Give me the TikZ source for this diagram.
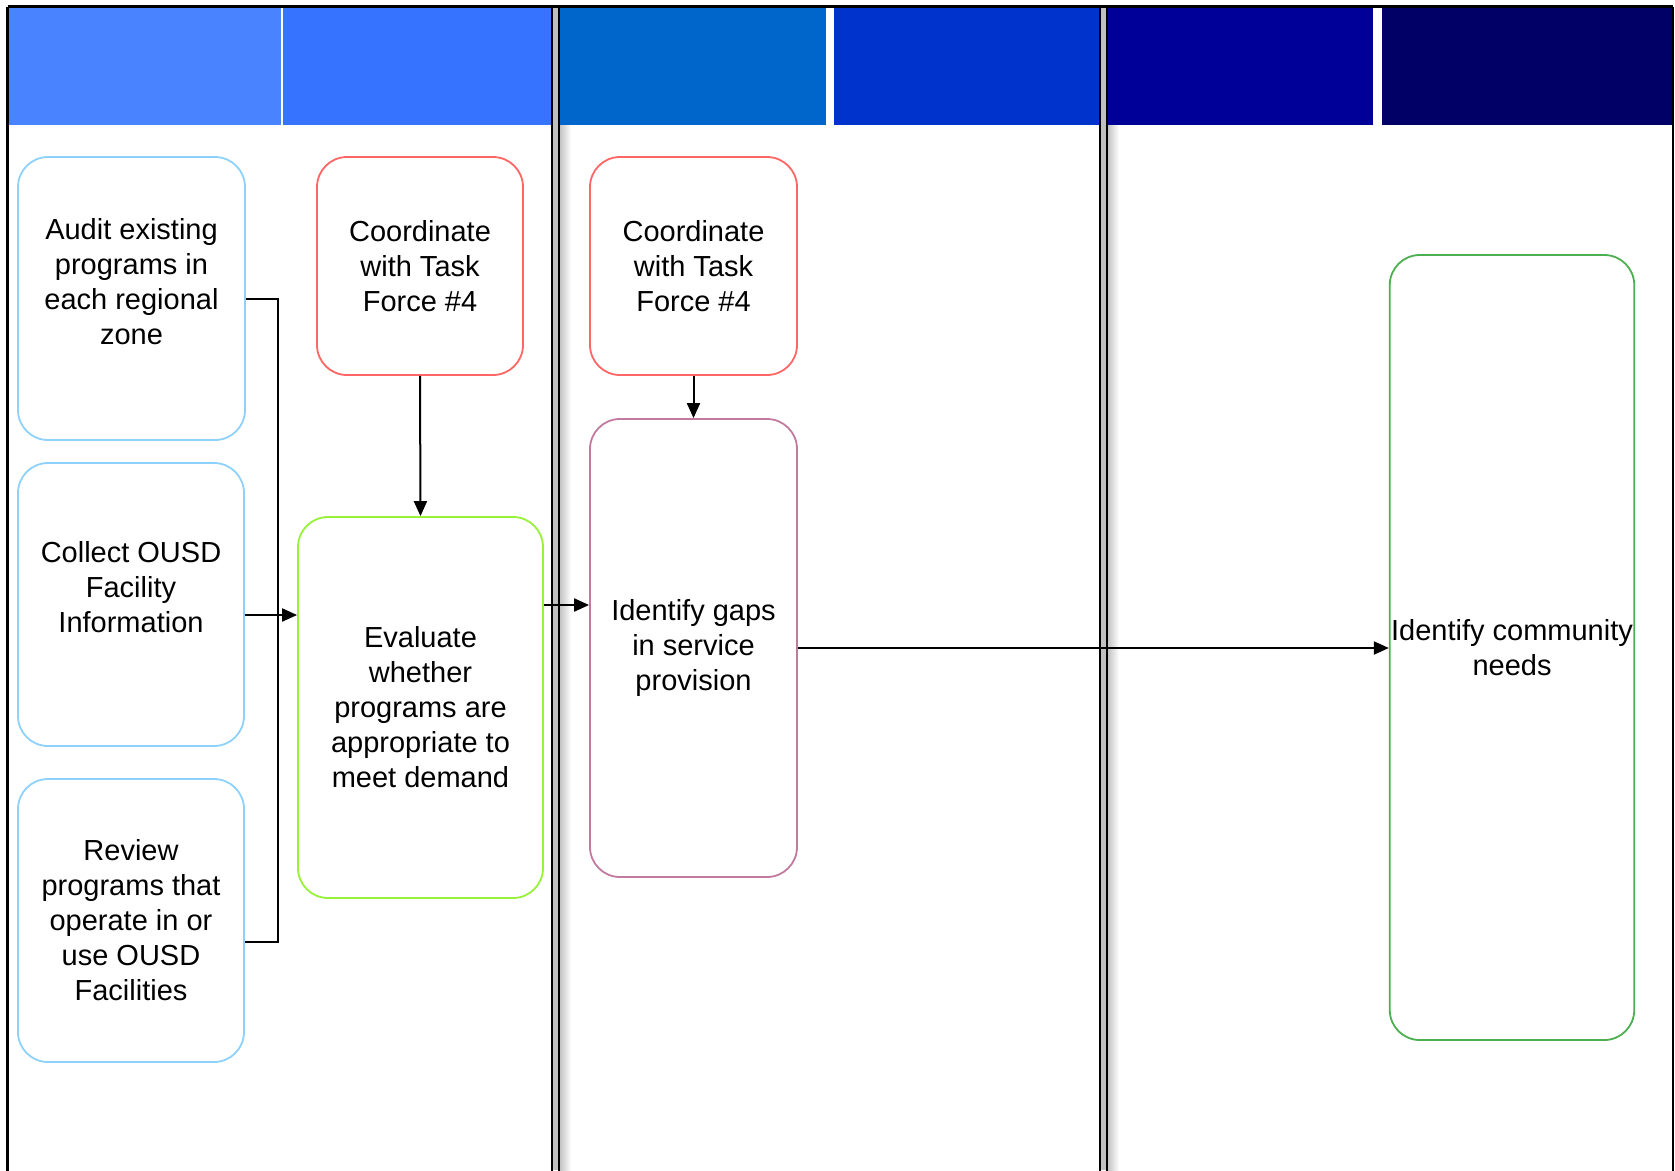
\documentclass[tikz,border=0pt]{standalone}
\usepackage{fontspec}
\setmainfont{Liberation Sans}
\usetikzlibrary{arrows.meta,calc}
\definecolor{hA}{HTML}{4A83FF}
\definecolor{hB}{HTML}{3674FF}
\definecolor{hC}{HTML}{0066CC}
\definecolor{hD}{HTML}{0033CC}
\definecolor{hE}{HTML}{000099}
\definecolor{hF}{HTML}{000066}
\definecolor{cblue}{HTML}{8ED2FB}
\definecolor{cred}{HTML}{FF6666}
\definecolor{clime}{HTML}{99F23A}
\definecolor{cmauve}{HTML}{C27BA0}
\definecolor{cgreen}{HTML}{4CAF50}
\definecolor{gapgray}{HTML}{C0C0C0}
\tikzset{
  box/.style={rectangle, rounded corners=30pt, line width=1.8pt, fill=white,
    align=center, inner sep=0pt, font=\fontsize{29pt}{35pt}\selectfont},
  conn/.style={line width=2pt, draw=black},
  arr/.style={conn, -{Triangle[length=15pt,width=13pt]}},
  pane/.style={line width=2.2pt, draw=black},
  hdr/.style={draw=none}
}
\begin{document}
\begin{tikzpicture}[x=1pt,y=-1pt]
\useasboundingbox (0,0) rectangle (1675,1170);
% gaps between panes
\fill[gapgray] (552,6.5) rectangle (559,1170);
\fill[gapgray] (1100,6.5) rectangle (1107,1170);
% soft shadows inside panes 2 and 3
\shade[left color=black!25, right color=white] (559,125) rectangle (571,1170);
\shade[left color=black!25, right color=white] (1107,125) rectangle (1119,1170);
% headers
\fill[hA] (8.5,7.5) rectangle (281,125);
\fill[hB] (283,7.5) rectangle (551,125);
\fill[hC] (560,7.5) rectangle (826,125);
\fill[hD] (834,7.5) rectangle (1099,125);
\fill[hE] (1108,7.5) rectangle (1373,125);
\fill[hF] (1382,7.5) rectangle (1673,125);
% pane borders
\draw[pane] (7.5,6.5) -- (7.5,1175);
\draw[pane] (7.5,6.5) -- (1673,6.5);
\draw[pane] (552,6.5) -- (552,1175);
\draw[pane] (559,6.5) -- (559,1175);
\draw[pane] (1100,6.5) -- (1100,1175);
\draw[pane] (1107,6.5) -- (1107,1175);
\draw[pane] (1673,6.5) -- (1673,1175);
% nodes
\node[box, draw=cblue, minimum width=227pt, minimum height=283pt] (A) at (131.5,298.5)
  {Audit existing\\programs in\\each regional\\zone\\\mbox{}};
\node[box, draw=cblue, minimum width=226pt, minimum height=283pt] (B) at (131,604.5)
  {Collect OUSD\\Facility\\Information\\\mbox{}};
\node[box, draw=cblue, minimum width=226pt, minimum height=283pt] (C) at (131,920.5)
  {Review\\programs that\\operate in or\\use OUSD\\Facilities};
\node[box, draw=cred, minimum width=206pt, minimum height=218pt] (D) at (420,266)
  {Coordinate\\with Task\\Force \#4};
\node[box, draw=clime, minimum width=245pt, minimum height=381pt] (E) at (420.5,707.5)
  {Evaluate\\whether\\programs are\\appropriate to\\meet demand};
\node[box, draw=cred, minimum width=207pt, minimum height=218pt] (F) at (693.5,266)
  {Coordinate\\with Task\\Force \#4};
\node[box, draw=cmauve, minimum width=207pt, minimum height=458pt] (G) at (693.5,648)
  {Identify gaps\\in service\\provision};
\node[box, draw=cgreen, minimum width=244.5pt, minimum height=785pt] (H) at (1512,647.5)
  {Identify community\\needs};
% connectors
\coordinate (bus1) at (278,298.5);
\coordinate (bus2) at (278,942);
\coordinate (bin) at (278,615);
\coordinate (eg) at (0,605);
\draw[conn] (A.east) -- (bus1) -- (bus2) -- ([yshift=-21.5pt]C.east);
\draw[arr] ([yshift=-10.5pt]B.east) -- (E.west |- bin);
\draw[arr] (D.south) -- (E.north);
\draw[arr] (E.east |- eg) -- (G.west |- eg);
\draw[arr] (F.south) -- (G.north);
\draw[arr] (G.east) -- (H.west |- G.east);
\end{tikzpicture}
\end{document}
